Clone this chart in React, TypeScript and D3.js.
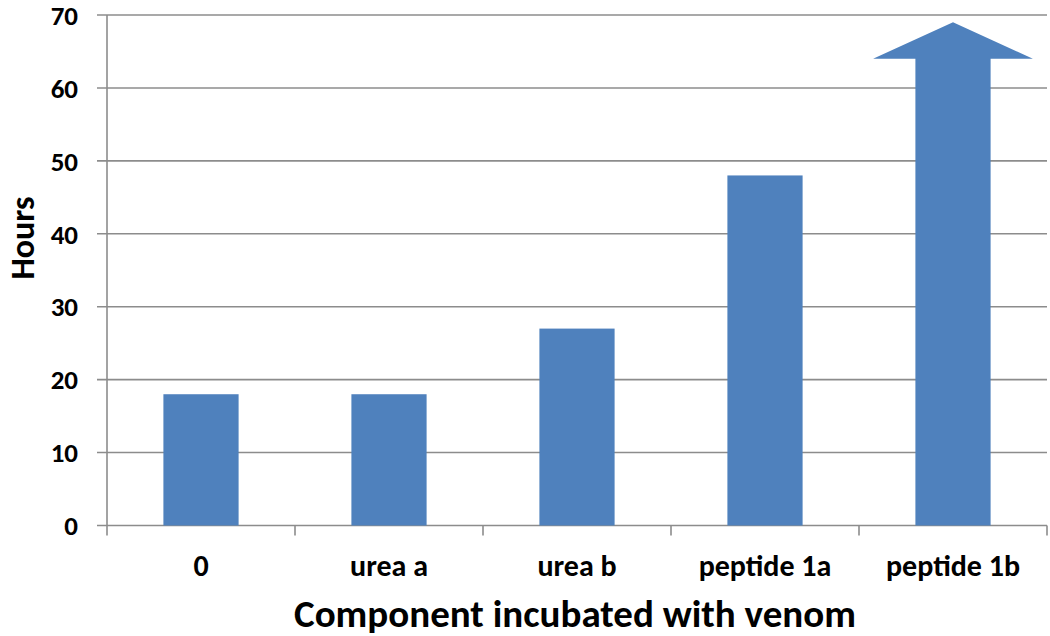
import React from "react";
import * as d3 from "d3";

const categories = ["0", "urea a", "urea b", "peptide 1a", "peptide 1b"];
const hours = [18, 18, 27, 48, 69];
const arrowFlags = [false, false, false, false, true];
const arrowHeadBase = 64;
const yTicks = [0, 10, 20, 30, 40, 50, 60, 70];

const W = 1050;
const H = 636;
const left = 107;
const right = 1047;
const top = 15;
const bottom = 525.5;
const FONT = "Carlito, Calibri, Lato, 'Open Sans', sans-serif";
const BAR = "#4F81BD";
const GRID = "#8c8c8c";

export default function App() {
  const x = d3
    .scaleBand<string>()
    .domain(categories)
    .range([left, right])
    .paddingInner(0.6)
    .paddingOuter(0.3);
  const y = d3.scaleLinear().domain([0, 70]).range([bottom, top]);
  const step = x.step();
  const bw = x.bandwidth();
  const boundaries = d3.range(categories.length + 1).map((i) => left + i * step);

  return (
    <svg width={W} height={H} style={{ position: "absolute", left: 0, top: 0, background: "#fff" }}>
      {yTicks.map((t) => (
        <g key={t}>
          <line x1={left - 10} x2={right} y1={y(t)} y2={y(t)} stroke={GRID} strokeWidth={1.6} />
          <text
            x={78}
            y={y(t)}
            dy="0.36em"
            textAnchor="end"
            fontFamily={FONT}
            fontWeight="bold"
            fontSize={27}
            fill="#000"
          >
            {t}
          </text>
        </g>
      ))}
      <line x1={left} x2={left} y1={top} y2={bottom} stroke={GRID} strokeWidth={1.6} />
      {boundaries.map((b, i) => (
        <line key={i} x1={b} x2={b} y1={bottom} y2={bottom + 10} stroke={GRID} strokeWidth={1.6} />
      ))}
      {categories.map((c, i) => {
        const x0 = x(c)!;
        const cx = x0 + bw / 2;
        if (arrowFlags[i]) {
          const headHalf = step * 0.425;
          const p = d3.path();
          p.moveTo(x0, y(0));
          p.lineTo(x0, y(arrowHeadBase));
          p.lineTo(cx - headHalf, y(arrowHeadBase));
          p.lineTo(cx, y(hours[i]));
          p.lineTo(cx + headHalf, y(arrowHeadBase));
          p.lineTo(x0 + bw, y(arrowHeadBase));
          p.lineTo(x0 + bw, y(0));
          p.closePath();
          return <path key={c} d={p.toString()} fill={BAR} />;
        }
        return <rect key={c} x={x0} y={y(hours[i])} width={bw} height={y(0) - y(hours[i])} fill={BAR} />;
      })}
      {categories.map((c) => (
        <text
          key={c}
          x={x(c)! + bw / 2}
          y={576}
          textAnchor="middle"
          fontFamily={FONT}
          fontWeight="bold"
          fontSize={30}
          fill="#000"
        >
          {c}
        </text>
      ))}
      <text
        x={575}
        y={627}
        textAnchor="middle"
        fontFamily={FONT}
        fontWeight="bold"
        fontSize={39}
        fill="#000"
      >
        Component incubated with venom
      </text>
      <text
        transform={`translate(34, 238) rotate(-90)`}
        textAnchor="middle"
        fontFamily={FONT}
        fontWeight="bold"
        fontSize={34}
        fill="#000"
      >
        Hours
      </text>
    </svg>
  );
}
